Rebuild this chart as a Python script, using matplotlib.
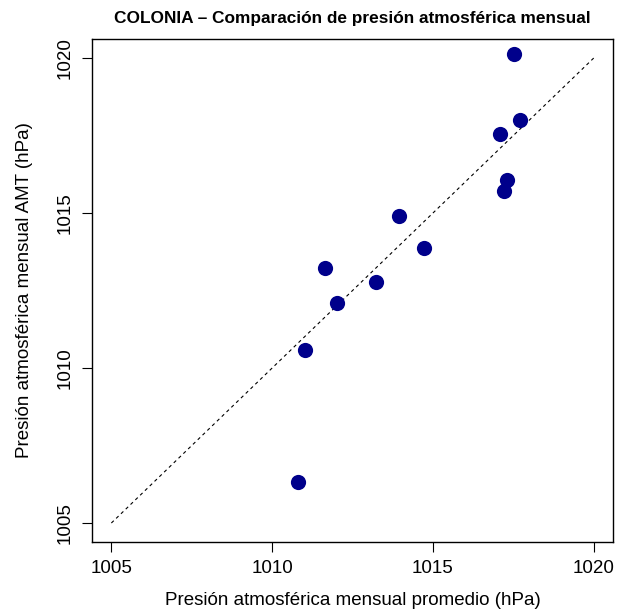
import numpy as np
import matplotlib
matplotlib.use('Agg')
import matplotlib.pyplot as plt

plt.rcParams['font.family'] = ['Liberation Sans', 'DejaVu Sans']

# monthly pressure: mean of stations vs AMT (hPa)
promedio = [1017.52, 1017.70, 1017.08, 1017.30, 1017.20, 1013.94,
            1014.72, 1011.65, 1013.23, 1012.02, 1011.02, 1010.81]
amt = [1020.13, 1018.00, 1017.55, 1016.06, 1015.71, 1014.90,
       1013.87, 1013.23, 1012.77, 1012.10, 1010.58, 1006.32]
ticks = [1005, 1010, 1015, 1020]
lims = [1005, 1020]

fig = plt.figure(figsize=(6.22, 6.12), dpi=100)
ax = fig.add_axes([0.148, 0.115, 0.8375, 0.8205])

ax.plot(lims, lims, color='black', linestyle=(0, (3, 3)), linewidth=0.8)
ax.scatter(promedio, amt, s=120, color='#00008B', zorder=3, linewidths=0)

ax.set_xlim(1004.4, 1020.6)
ax.set_ylim(1004.4, 1020.6)
ax.set_xticks(ticks)
ax.set_yticks(ticks)
ax.tick_params(labelsize=13.5, length=7, width=0.8, pad=6)
plt.setp(ax.get_yticklabels(), rotation=90, va='center')
for s in ax.spines.values():
    s.set_linewidth(1.0)

ax.set_xlabel('Presión atmosférica mensual promedio (hPa)', fontsize=13.5, labelpad=11)
ax.set_ylabel('Presión atmosférica mensual AMT (hPa)', fontsize=13.5, labelpad=17)
ax.set_title('COLONIA – Comparación de presión atmosférica mensual',
             fontsize=12.4, fontweight='bold', pad=12)

fig.savefig('out.png', dpi=100)
